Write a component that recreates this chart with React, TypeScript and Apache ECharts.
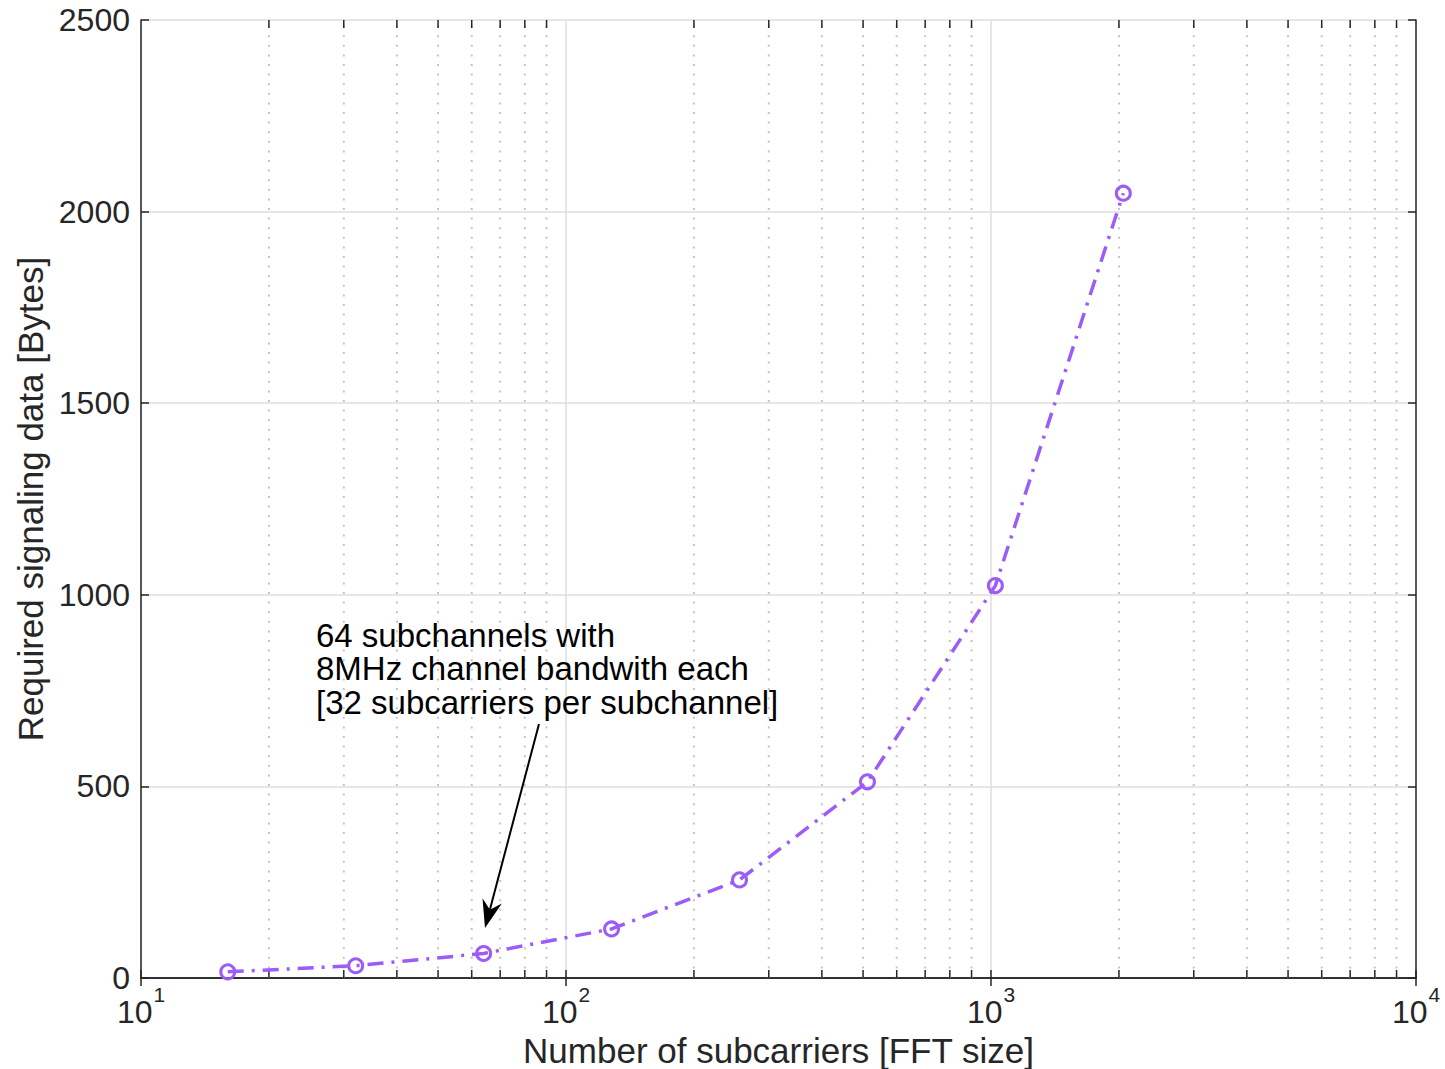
import { useEffect, useRef } from "react";
import * as echarts from "echarts";

// FFT size vs. bytes of signaling data needed
const subcarriers = [16, 32, 64, 128, 256, 512, 1024, 2048];
const signalingBytes = [16, 32, 64, 128, 256, 512, 1024, 2048];

// Axis ranges
const xRange = [10, 10000];
const yRange = [0, 2500];
const yStep = 500;

// Minor decade positions on the log axis (2..9 × 10^k)
const minorX = [
  20, 30, 40, 50, 60, 70, 80, 90,
  200, 300, 400, 500, 600, 700, 800, 900,
  2000, 3000, 4000, 5000, 6000, 7000, 8000, 9000,
];

const annotationLines = [
  "64 subchannels with",
  "8MHz channel bandwith each",
  "[32 subcarriers per subchannel]",
];

const FONT = "'Liberation Sans', Arial, Helvetica, sans-serif";
const AXIS_COLOR = "#262626";
const LINE_COLOR = "#9b5cf7";

export default function App() {
  const ref = useRef<HTMLDivElement>(null);

  useEffect(() => {
    document.body.style.margin = "0";
    document.body.style.overflow = "hidden";
    const chart = echarts.init(ref.current!, null, { renderer: "svg" });

    // Annotation arrow geometry (tail under the text, tip above the 64 point)
    const tail = [539, 724];
    const tip = [485, 928];
    const dx = tip[0] - tail[0];
    const dy = tip[1] - tail[1];
    const len = Math.hypot(dx, dy);
    const ux = dx / len;
    const uy = dy / len;
    const px = -uy;
    const py = ux;
    const headLen = 28;
    const headHalf = 10;
    const notch = 19;
    const back = [tip[0] - headLen * ux, tip[1] - headLen * uy];
    const notchPt = [tip[0] - notch * ux, tip[1] - notch * uy];

    const tickLine = { show: true, lineStyle: { color: AXIS_COLOR, width: 1.5 } };
    const tickStyle = { show: true, inside: true, length: 8, lineStyle: { color: AXIS_COLOR, width: 1.5 } };

    chart.setOption({
      animation: false,
      backgroundColor: "#ffffff",
      textStyle: { fontFamily: FONT },
      grid: {
        left: 141,
        right: 29,
        top: 20,
        bottom: 91,
        containLabel: false,
        outerBoundsMode: "none",
      },
      xAxis: [
        {
          type: "log",
          logBase: 10,
          min: xRange[0],
          max: xRange[1],
          position: "bottom",
          name: "Number of subcarriers [FFT size]",
          nameLocation: "middle",
          nameGap: 48,
          nameTextStyle: { fontSize: 35, color: AXIS_COLOR, fontFamily: FONT },
          axisLine: tickLine,
          axisTick: tickStyle,
          axisLabel: {
            margin: 6,
            color: AXIS_COLOR,
            formatter: (v: number) => `{b|10}{s|${Math.round(Math.log10(v))}}`,
            rich: {
              b: { fontSize: 32, fontFamily: FONT, color: AXIS_COLOR, lineHeight: 44, verticalAlign: "bottom" },
              s: { fontSize: 21, fontFamily: FONT, color: AXIS_COLOR, lineHeight: 44, verticalAlign: "top", padding: [0, 0, 0, 1] },
            },
          },
          splitLine: { show: true, lineStyle: { color: "#dedede", width: 1.5 } },
        },
        {
          type: "log",
          logBase: 10,
          min: xRange[0],
          max: xRange[1],
          position: "top",
          axisLine: tickLine,
          axisTick: tickStyle,
          axisLabel: { show: false },
          splitLine: { show: false },
        },
      ],
      yAxis: [
        {
          type: "value",
          min: yRange[0],
          max: yRange[1],
          interval: yStep,
          position: "left",
          name: "Required signaling data [Bytes]",
          nameLocation: "middle",
          nameGap: 90,
          nameTextStyle: { fontSize: 35, color: AXIS_COLOR, fontFamily: FONT },
          axisLine: tickLine,
          axisTick: tickStyle,
          axisLabel: {
            fontSize: 32,
            color: AXIS_COLOR,
            margin: 11,
            fontFamily: FONT,
            formatter: (v: number) => String(v),
          },
          splitLine: { show: true, lineStyle: { color: "#dedede", width: 1.5 } },
        },
        {
          type: "value",
          min: yRange[0],
          max: yRange[1],
          interval: yStep,
          position: "right",
          axisLine: tickLine,
          axisTick: tickStyle,
          axisLabel: { show: false },
          splitLine: { show: false },
        },
      ],
      series: [
        {
          type: "custom",
          silent: true,
          z: 1,
          xAxisIndex: 0,
          yAxisIndex: 0,
          data: minorX.map((v) => [v, 0]),
          renderItem: (params: any, api: any) => {
            const x = api.coord([api.value(0), 0])[0];
            const cs = params.coordSys;
            const top = cs.y;
            const bottom = cs.y + cs.height;
            return {
              type: "group",
              children: [
                {
                  type: "line",
                  shape: { x1: x, y1: bottom, x2: x, y2: top },
                  style: { stroke: "#c4c4c4", lineWidth: 2, lineDash: [2, 7.6] },
                },
                {
                  type: "line",
                  shape: { x1: x, y1: bottom, x2: x, y2: bottom - 8 },
                  style: { stroke: AXIS_COLOR, lineWidth: 1.5 },
                },
                {
                  type: "line",
                  shape: { x1: x, y1: top, x2: x, y2: top + 8 },
                  style: { stroke: AXIS_COLOR, lineWidth: 1.5 },
                },
              ],
            };
          },
        },
        {
          type: "line",
          z: 3,
          xAxisIndex: 0,
          yAxisIndex: 0,
          data: subcarriers.map((n, i) => [n, signalingBytes[i]]),
          symbol: "circle",
          symbolSize: 14,
          itemStyle: { color: "rgba(255,255,255,0)", borderColor: LINE_COLOR, borderWidth: 3 },
          lineStyle: { color: LINE_COLOR, width: 3.5, type: [16, 8, 3, 8] },
        },
      ],
      graphic: [
        {
          type: "text",
          x: 316,
          y: 618.5,
          z: 10,
          style: {
            text: annotationLines.join("\n"),
            font: `33px ${FONT}`,
            lineHeight: 33.5,
            fill: "#000000",
            verticalAlign: "top",
          },
        },
        {
          type: "line",
          z: 10,
          shape: { x1: tail[0], y1: tail[1], x2: notchPt[0], y2: notchPt[1] },
          style: { stroke: "#000000", lineWidth: 2 },
        },
        {
          type: "polygon",
          z: 10,
          shape: {
            points: [
              tip,
              [back[0] + headHalf * px, back[1] + headHalf * py],
              notchPt,
              [back[0] - headHalf * px, back[1] - headHalf * py],
            ],
          },
          style: { fill: "#000000" },
        },
      ],
    });

    return () => chart.dispose();
  }, []);

  return <div ref={ref} style={{ width: 1445, height: 1069 }} />;
}
